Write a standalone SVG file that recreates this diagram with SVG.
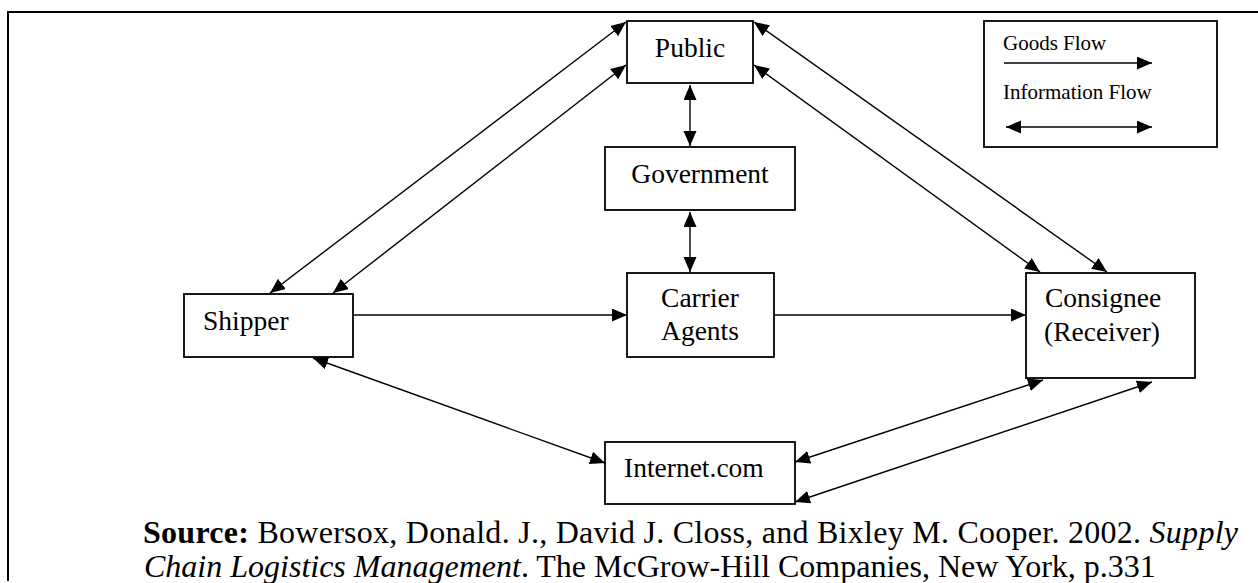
<svg xmlns="http://www.w3.org/2000/svg" width="1258" height="583" viewBox="0 0 1258 583">
  <defs>
    <marker id="head" markerUnits="userSpaceOnUse" markerWidth="16" markerHeight="14" refX="15" refY="6.5" orient="auto-start-reverse">
      <path d="M0,0 L15,6.5 L0,13 Z" fill="#000"/>
    </marker>
    <style>
      .box { fill: #fff; stroke: #000; stroke-width: 1.8; }
      .lbl { font-family: "Liberation Serif", "Times New Roman", serif; font-size: 27.5px; fill: #000; }
      .leg { font-family: "Liberation Serif", "Times New Roman", serif; font-size: 21px; fill: #000; }
      .src { font-family: "Liberation Serif", "Times New Roman", serif; font-size: 32px; fill: #000; }
      .one { fill: none; stroke: #000; stroke-width: 1.4; marker-end: url(#head); }
      .two { fill: none; stroke: #000; stroke-width: 1.4; marker-start: url(#head); marker-end: url(#head); }
    </style>
  </defs>

  <rect width="1258" height="583" fill="#fff"/>

  <!-- page frame: top rule and left rule -->
  <path d="M1258,12 H8 V581" fill="none" stroke="#000" stroke-width="2"/>

  <!-- connectors -->
  <g id="connectors">
    <!-- goods flow -->
    <line class="one" x1="353" y1="315" x2="627" y2="315"/>
    <line class="one" x1="774" y1="315" x2="1026" y2="315"/>
    <!-- information flow -->
    <line class="two" x1="690" y1="85" x2="690" y2="146"/>
    <line class="two" x1="690" y1="212" x2="690" y2="272"/>
    <line class="two" x1="270" y1="293" x2="626" y2="22"/>
    <line class="two" x1="333" y1="293" x2="626" y2="65"/>
    <line class="two" x1="754" y1="22" x2="1107" y2="272"/>
    <line class="two" x1="754" y1="65" x2="1040" y2="272"/>
    <line class="two" x1="313" y1="358" x2="605" y2="463"/>
    <line class="two" x1="795" y1="462" x2="1043" y2="380"/>
    <line class="two" x1="795" y1="502" x2="1152" y2="382"/>
  </g>

  <g id="public">
    <rect class="box" x="627" y="21" width="126" height="62"/>
    <text class="lbl" x="690" y="57" text-anchor="middle">Public</text>
  </g>

  <g id="government">
    <rect class="box" x="605" y="147" width="190" height="63"/>
    <text class="lbl" x="700" y="183" text-anchor="middle">Government</text>
  </g>

  <g id="shipper">
    <rect class="box" x="184" y="294" width="169" height="63"/>
    <text class="lbl" x="203" y="330">Shipper</text>
  </g>

  <g id="carrier">
    <rect class="box" x="627" y="273" width="147" height="84"/>
    <text class="lbl" x="700" y="307" text-anchor="middle">Carrier</text>
    <text class="lbl" x="700" y="340" text-anchor="middle">Agents</text>
  </g>

  <g id="consignee">
    <rect class="box" x="1026" y="273" width="169" height="105"/>
    <text class="lbl" x="1045" y="307">Consignee</text>
    <text class="lbl" x="1044" y="341">(Receiver)</text>
  </g>

  <g id="internet">
    <rect class="box" x="605" y="442" width="190" height="62"/>
    <text class="lbl" x="624" y="477">Internet.com</text>
  </g>

  <g id="legend">
    <rect class="box" x="984" y="21" width="233" height="126"/>
    <text class="leg" x="1003" y="50">Goods Flow</text>
    <line class="one" x1="1004" y1="63" x2="1152" y2="63"/>
    <text class="leg" x="1003" y="99">Information Flow</text>
    <line class="two" x1="1006" y1="127" x2="1152" y2="127"/>
  </g>

  <g id="source">
    <text class="src" x="143" y="543" textLength="1095" lengthAdjust="spacing"><tspan font-weight="bold">Source:</tspan> Bowersox, Donald. J., David J. Closs, and Bixley M. Cooper. 2002. <tspan font-style="italic">Supply</tspan></text>
    <text class="src" x="144" y="577"><tspan font-style="italic">Chain Logistics Management</tspan>. The McGrow-Hill Companies, New York, p.331</text>
  </g>
</svg>
